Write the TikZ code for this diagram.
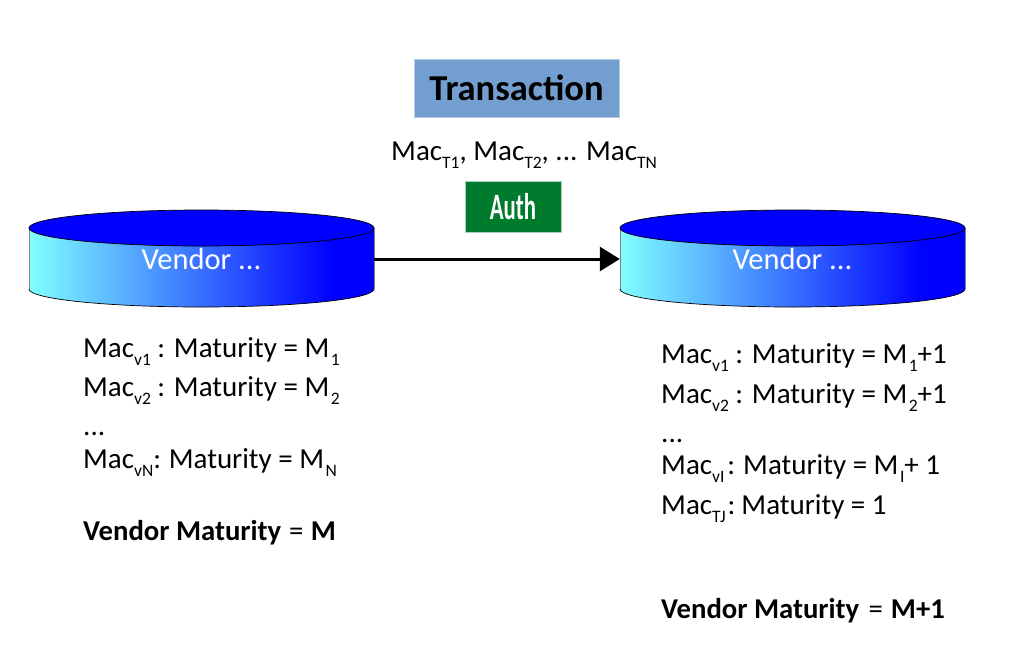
\documentclass[tikz,border=0pt]{standalone}
\usepackage{fontspec}
\setmainfont{Carlito}
\definecolor{cylcyan}{RGB}{128,255,255}
\definecolor{cylblue}{RGB}{0,0,255}
\definecolor{txbox}{RGB}{114,159,207}
\definecolor{txedge}{RGB}{180,205,230}
\definecolor{authbox}{RGB}{0,122,44}
\definecolor{authedge}{RGB}{170,210,185}
\pgfdeclarehorizontalshading{cylshade}{100bp}{color(0bp)=(cylcyan); color(25bp)=(cylcyan); color(69bp)=(cylblue); color(100bp)=(cylblue)}
\newcommand{\sbx}[1]{\raisebox{-0.29em}{\fontsize{17.5pt}{18pt}\selectfont #1}}
\newcommand{\sbm}[1]{\kern1.5pt\sbx{#1}}
\newcommand{\drawcyl}[1]{%
  \begin{scope}[xshift=#1pt]
    \path[shading=cylshade] (0,228) -- (0,289) arc[start angle=180,end angle=0,x radius=172.5,y radius=18] -- (345,228) -- cycle;
    \draw[cyledge] (0,228) -- (0,289);
    \draw[cyledge] (345,228) -- (345,289);
    \draw[black,line width=0.7pt] (0,289) arc[start angle=180,end angle=0,x radius=172.5,y radius=18];
    \draw[black,fill=cylblue,line width=0.7pt] (172.5,228) ellipse[x radius=172.5,y radius=18];
  \end{scope}}
\tikzset{
  x=1pt,y=-1pt,
  cyledge/.style={draw=gray,line width=0.8pt},
  cyllabel/.style={inner sep=0pt,minimum width=345pt,minimum height=97pt,text=white,font=\fontsize{30.5pt}{32pt}\selectfont},
  maclabel/.style={anchor=base west,inner sep=0pt,text=black,font=\fontsize{29pt}{32pt}\selectfont},
  boldlabel/.style={anchor=base west,inner sep=0pt,text=black,font=\fontsize{28.7pt}{32pt}\selectfont},
  flowarrow/.style={line width=3pt,-{Triangle[length=20pt,width=24pt]}}
}
\usetikzlibrary{arrows.meta}
\begin{document}
\begin{tikzpicture}
\useasboundingbox (0,0) rectangle (1016,646);
\fill[white] (0,0) rectangle (1016,646);
\drawcyl{29}
\drawcyl{620}
\node[cyllabel] (vleft) at (201.5,259) {\raisebox{-1pt}{Vendor ...}};
\node[cyllabel] (vright) at (792.5,259) {\raisebox{-1pt}{Vendor ...}};
\draw[flowarrow] (vleft.east) -- (vright.west);
\node[draw=txedge,fill=txbox,line width=0.8pt,minimum width=205pt,minimum height=58pt,inner sep=0pt,font=\fontsize{36.5pt}{40pt}\selectfont\bfseries] (tx) at (516.5,88) {Transaction};
\node[maclabel] (macs) at (391,160) {Mac\sbx{T1}, Mac\sbx{T2}, ... Mac\sbx{TN}};
\node[draw=authedge,fill=authbox,line width=0.8pt,minimum width=96pt,minimum height=51pt,inner sep=0pt,text=white,font=\fontsize{30pt}{32pt}\selectfont\bfseries] (auth) at (513,206.5) {\scalebox{0.76}[1.24]{Auth}};
\node[maclabel] (l1) at (83,357) {Mac\sbx{v1} : Maturity = M\sbm{1}};
\node[maclabel] (l2) at (83,396) {Mac\sbx{v2} : Maturity = M\sbm{2}};
\node[maclabel] (l3) at (83,435) {...};
\node[maclabel] (l4) at (83,468) {Mac\sbx{vN}:\kern-1pt{} Maturity = M\sbm{N}};
\node[boldlabel] (l5) at (83,540) {\textbf{Vendor Maturity}\kern1.5pt{} = \kern1pt\textbf{M}};
\node[maclabel] (r1) at (661,363) {Mac\sbx{v1} : Maturity = M\sbm{1}+1};
\node[maclabel] (r2) at (661,403) {Mac\sbx{v2} : Maturity = M\sbm{2}+1};
\node[maclabel] (r3) at (661,442) {...};
\node[maclabel] (r4) at (661,474) {Mac\sbx{vI}\kern3pt:\kern8pt Maturity = M\sbm{I}+ 1};
\node[maclabel] (r5) at (661,514) {Mac\sbx{TJ}\kern2pt:\kern6pt Maturity = 1};
\node[boldlabel] (r6) at (661,618) {\textbf{Vendor Maturity}\kern3pt{} = \kern1.5pt\textbf{M+1}};
\end{tikzpicture}
\end{document}
